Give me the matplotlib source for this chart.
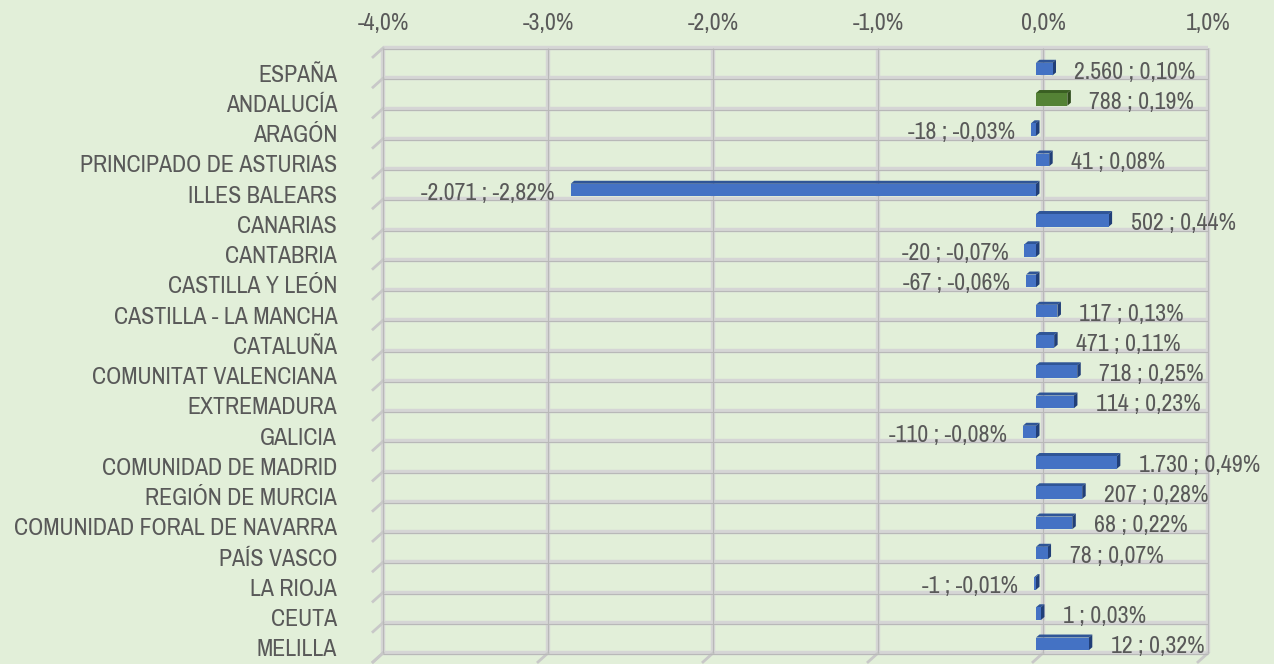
import matplotlib
matplotlib.use("Agg")
import matplotlib.pyplot as plt
from matplotlib.transforms import offset_copy
from matplotlib.patches import Polygon
from matplotlib.lines import Line2D

categories = ["ESPAÑA", "ANDALUCÍA", "ARAGÓN", "PRINCIPADO DE ASTURIAS", "ILLES BALEARS",
              "CANARIAS", "CANTABRIA", "CASTILLA Y LEÓN", "CASTILLA - LA MANCHA", "CATALUÑA",
              "COMUNITAT VALENCIANA", "EXTREMADURA", "GALICIA", "COMUNIDAD DE MADRID",
              "REGIÓN DE MURCIA", "COMUNIDAD FORAL DE NAVARRA", "PAÍS VASCO", "LA RIOJA",
              "CEUTA", "MELILLA"]
pct_values = [0.10, 0.19, -0.03, 0.08, -2.82, 0.44, -0.07, -0.06, 0.13, 0.11,
              0.25, 0.23, -0.08, 0.49, 0.28, 0.22, 0.07, -0.01, 0.03, 0.32]
abs_labels = ["2.560", "788", "-18", "41", "-2.071", "502", "-20", "-67", "117", "471",
              "718", "114", "-110", "1.730", "207", "68", "78", "-1", "1", "12"]
x_ticks = [-4, -3, -2, -1, 0, 1]
x_tick_labels = ["-4,0%", "-3,0%", "-2,0%", "-1,0%", "0,0%", "1,0%"]
highlight = "ANDALUCÍA"

FONT = ["Liberation Sans Narrow", "Archivo Narrow", "DejaVu Sans"]
plt.rcParams["font.family"] = FONT
TXT = "#595959"
BG = "#E2EFD9"
FS = 17.2

W, H = 1274, 664
fig = plt.figure(figsize=(W / 100, H / 100), dpi=100, facecolor=BG)
ax_l, ax_r, ax_t, ax_b = 383, 1208, 48, 653
ax = fig.add_axes([ax_l / W, (H - ax_b) / H, (ax_r - ax_l) / W, (ax_b - ax_t) / H])
ax.set_facecolor(BG)
ax.set_xlim(x_ticks[0], x_ticks[-1])
n = len(categories)
ax.set_ylim(n - 0.5, -0.5)
for s in ax.spines.values():
    s.set_visible(False)

ppx = (ax_r - ax_l) / (x_ticks[-1] - x_ticks[0])
ppy = (ax_b - ax_t) / n

# back wall grid
bounds = [i - 0.5 for i in range(n + 1)]
ax.hlines(bounds, x_ticks[0], x_ticks[-1], colors="#D5D5D5", lw=3.2, zorder=1, clip_on=False)
ax.hlines([b + 1.0 / ppy for b in bounds], x_ticks[0], x_ticks[-1], colors="#B8B8B8", lw=0.8, zorder=1.1, clip_on=False)
ax.vlines(x_ticks, -0.5, n - 0.5, colors="#D5D5D5", lw=3.2, zorder=1, clip_on=False)
ax.vlines(x_ticks, -0.5, n - 0.5, colors="#B8B8B8", lw=0.8, zorder=1.1, clip_on=False)
# depth marks (left wall and floor)
ddx, ddy = -10 / ppx, 9 / ppy
for b in bounds:
    ax.add_line(Line2D([x_ticks[0], x_ticks[0] + ddx], [b, b + ddy], color="#C8C8C8", lw=2, clip_on=False, zorder=1))
for xt in x_ticks:
    ax.add_line(Line2D([xt, xt + ddx], [n - 0.5, n - 0.5 + ddy], color="#C8C8C8", lw=2, clip_on=False, zorder=1))

# bars (front offset)
bar_trans = offset_copy(ax.transData, fig=fig, x=-7, y=-6, units="dots")
colors = ["#548235" if c == highlight else "#4472C4" for c in categories]
top_cols = ["#3A5F22" if c == highlight else "#2F5597" for c in categories]
side_cols = ["#2E4A1B" if c == highlight else "#213F78" for c in categories]
h = 0.42
bars = ax.barh(range(n), pct_values, height=h, color=colors, transform=bar_trans, zorder=3, clip_on=False)
dx, dy = 3.5 / ppx, -3 / ppy
for i, v in enumerate(pct_values):
    x0, x1 = min(0, v), max(0, v)
    ytop = i - h / 2
    ybot = i + h / 2
    top = Polygon([(x0, ytop), (x1, ytop), (x1 + dx, ytop + dy), (x0 + dx, ytop + dy)],
                  closed=True, facecolor=top_cols[i], edgecolor="none", transform=bar_trans, zorder=2.9, clip_on=False)
    side = Polygon([(x1, ytop), (x1 + dx, ytop + dy), (x1 + dx, ybot + dy), (x1, ybot)],
                   closed=True, facecolor=side_cols[i], edgecolor="none", transform=bar_trans, zorder=2.9, clip_on=False)
    ax.add_patch(top)
    ax.add_patch(side)
    lab = f"{abs_labels[i]} ; " + f"{pct_values[i]:.2f}".replace(".", ",") + "%"
    if v >= 0:
        ax.annotate(lab, xy=(v, i), xycoords=bar_trans, xytext=(22, -3), textcoords="offset pixels",
                    ha="left", va="center", fontsize=FS, color=TXT, zorder=4, annotation_clip=False)
    else:
        ax.annotate(lab, xy=(v, i), xycoords=bar_trans, xytext=(-16, -3), textcoords="offset pixels",
                    ha="right", va="center", fontsize=FS, color=TXT, zorder=4, annotation_clip=False)

# axis labels
ax.xaxis.tick_top()
ax.set_xticks(x_ticks)
ax.set_xticklabels(x_tick_labels, fontsize=FS, color=TXT)
ax.tick_params(axis="x", length=0, pad=10)
ax.set_yticks(range(n))
ax.set_yticklabels(categories, fontsize=FS, color=TXT)
ax.tick_params(axis="y", length=0, pad=33)
for t in ax.get_yticklabels():
    t.set_transform(offset_copy(t.get_transform(), fig=fig, x=0, y=-10, units="dots"))

fig.savefig("out.png", dpi=100, facecolor=BG)
